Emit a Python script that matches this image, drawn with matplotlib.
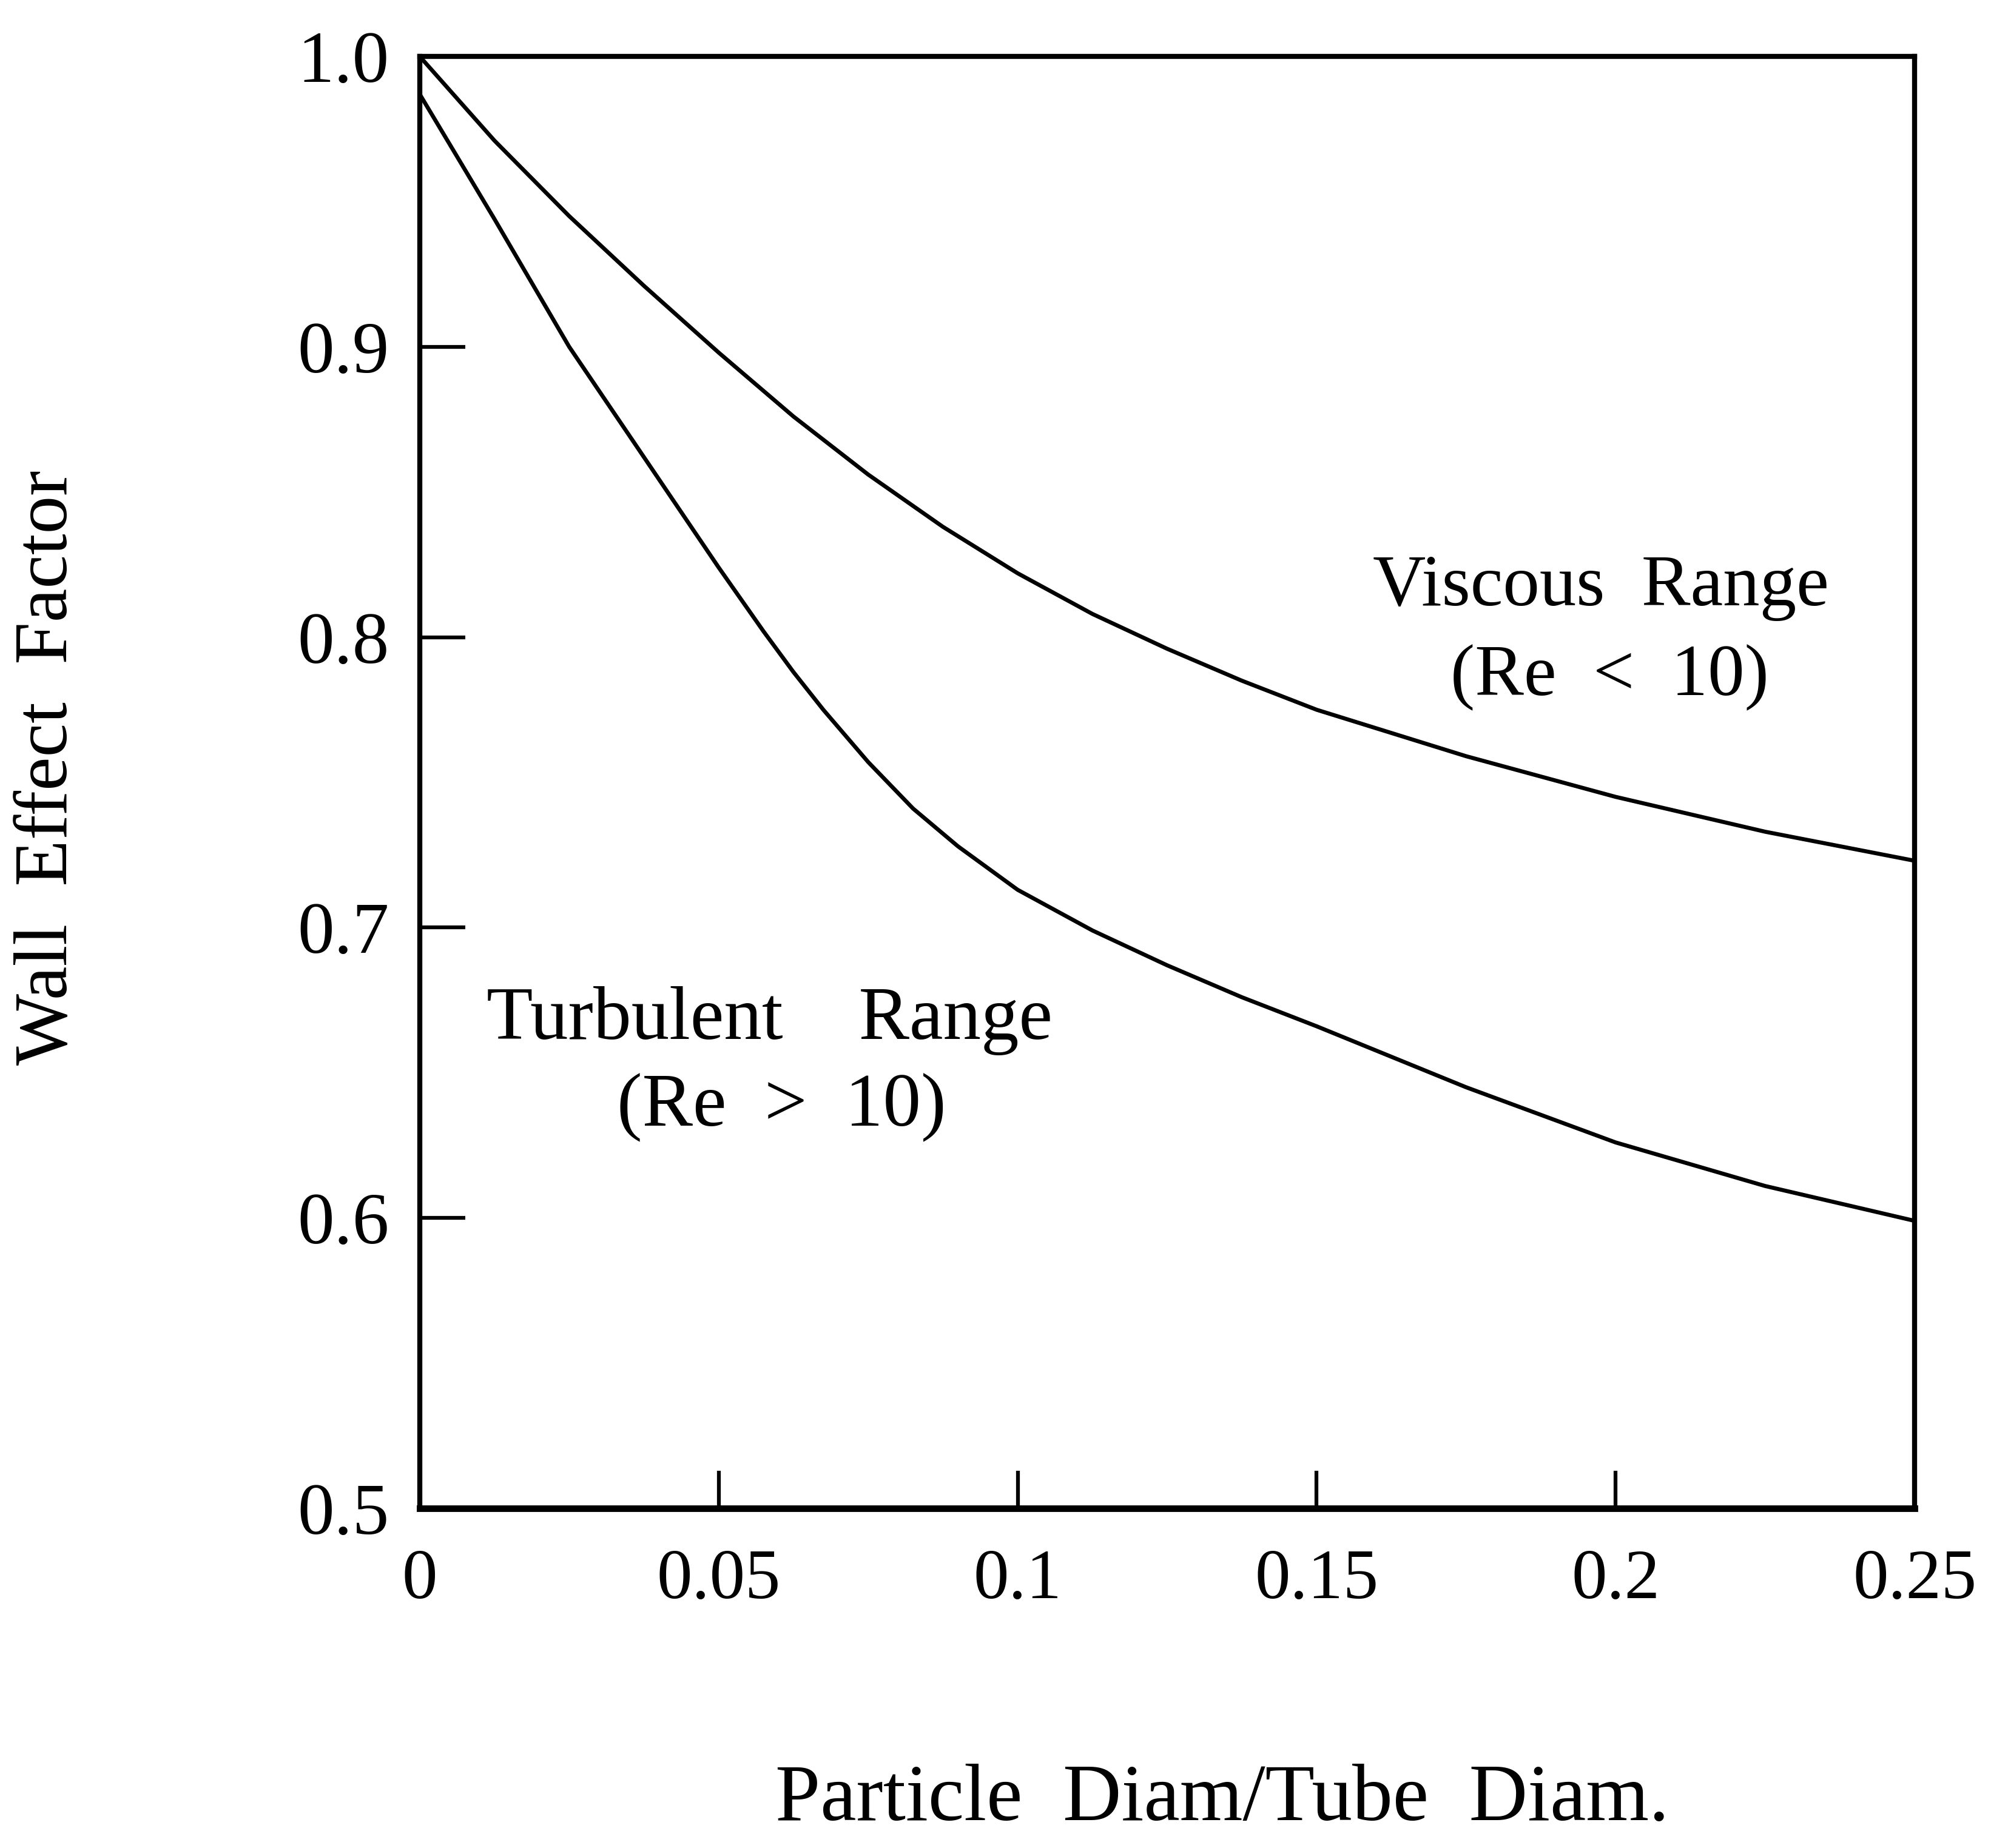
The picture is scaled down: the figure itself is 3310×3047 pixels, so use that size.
import numpy as np
import matplotlib
matplotlib.use('Agg')
import matplotlib.pyplot as plt

plt.rcParams['font.family'] = ['Liberation Serif', 'DejaVu Serif']

# ratio d/D
viscous_x = [0.0, 0.0125, 0.025, 0.0375, 0.05, 0.0625, 0.075, 0.0875, 0.1, 0.1125,
             0.125, 0.1375, 0.15, 0.175, 0.2, 0.225, 0.25]
viscous_y = [1.0, 0.971, 0.945, 0.921, 0.898, 0.876, 0.856, 0.838, 0.822, 0.808,
             0.796, 0.785, 0.775, 0.759, 0.745, 0.733, 0.723]

turb_x = [0.0, 0.0125, 0.025, 0.0375, 0.05, 0.0575, 0.0625, 0.0675, 0.075, 0.0825,
          0.09, 0.1, 0.1125, 0.125, 0.1375, 0.15, 0.175, 0.2, 0.225, 0.25]
turb_y = [0.987, 0.944, 0.900, 0.862, 0.824, 0.802, 0.788, 0.775, 0.757, 0.741,
          0.728, 0.713, 0.699, 0.687, 0.676, 0.666, 0.645, 0.626, 0.611, 0.599]

xticks = [0, 0.05, 0.1, 0.15, 0.2, 0.25]
xtick_labels = ['0', '0.05', '0.1', '0.15', '0.2', '0.25']
yticks = [0.5, 0.6, 0.7, 0.8, 0.9, 1.0]
ytick_labels = ['0.5', '0.6', '0.7', '0.8', '0.9', '1.0']

fig = plt.figure(figsize=(3310 / 300, 3047 / 300), dpi=300)
ax = fig.add_axes([0.209, 0.1838, 0.7445, 0.7857])

ax.plot(viscous_x, viscous_y, color='black', linewidth=1.6)
ax.plot(turb_x, turb_y, color='black', linewidth=1.6)

ax.set_xlim(0, 0.25)
ax.set_ylim(0.5, 1.0)
ax.set_xticks(xticks)
ax.set_xticklabels(xtick_labels)
ax.set_yticks(yticks)
ax.set_yticklabels(ytick_labels)

ax.tick_params(axis='y', direction='in', length=18, width=1.5, pad=12, labelsize=29)
ax.tick_params(axis='x', direction='in', length=15, width=1.5, pad=16, labelsize=28)

for s in ax.spines.values():
    s.set_linewidth(2.0)
ax.spines['bottom'].set_linewidth(2.6)

ax.text(0.1975, 0.817, 'Viscous  Range', fontsize=29, ha='center', va='center')
ax.text(0.199, 0.786, '(Re  <  10)', fontsize=29, ha='center', va='center')
ax.text(0.0585, 0.668, 'Turbulent    Range', fontsize=30, ha='center', va='center')
ax.text(0.0605, 0.638, '(Re  >  10)', fontsize=30, ha='center', va='center')

ax.set_xlabel('Particle  Diam/Tube  Diam.', fontsize=32)
ax.xaxis.set_label_coords(0.537, -0.176)
ax.set_ylabel('Wall  Effect  Factor', fontsize=30)
ax.yaxis.set_label_coords(-0.225, 0.51)

fig.savefig('out.png', dpi=300)
